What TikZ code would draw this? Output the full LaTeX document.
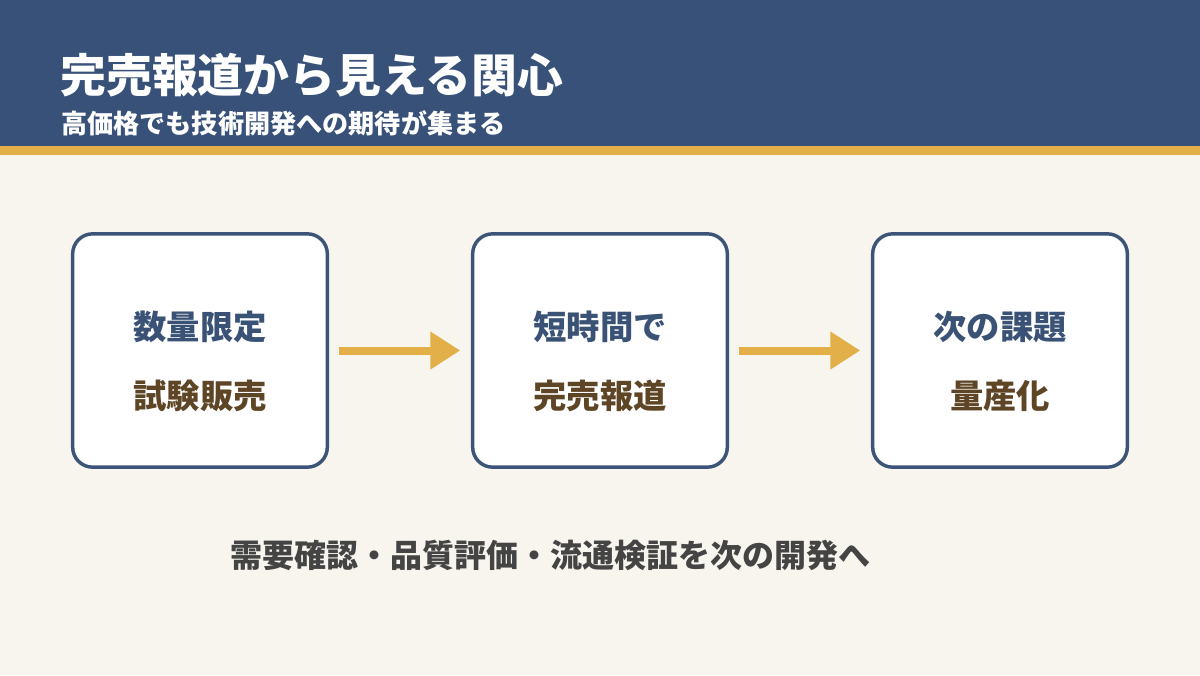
\documentclass[tikz,border=0pt]{standalone}
\usepackage{fontspec}
\newfontfamily\cjk{Noto Sans CJK JP}
\usetikzlibrary{arrows.meta,calc}
\definecolor{hdr}{HTML}{375178}
\definecolor{gold}{HTML}{E2AF48}
\definecolor{bg}{HTML}{F8F5EE}
\definecolor{bx}{HTML}{3B5478}
\definecolor{bluetxt}{HTML}{3A5275}
\definecolor{browntxt}{HTML}{5E4526}
\definecolor{graytxt}{HTML}{444444}
\tikzset{
  stagebox/.style={draw=bx, line width=2.6pt, fill=white, rounded corners=15pt,
    minimum width=191pt, minimum height=175pt, inner sep=0pt},
  topline/.style={font=\cjk\bfseries\fontsize{25}{25}\selectfont, text=bluetxt, inner sep=0pt, anchor=base},
  botline/.style={font=\cjk\bfseries\fontsize{25}{25}\selectfont, text=browntxt, inner sep=0pt, anchor=base},
  flow/.style={draw=gold, line width=6pt, -{Triangle[length=22.5pt,width=27pt]}, shorten <=7.5pt, shorten >=8pt},
}
\begin{document}
\begin{tikzpicture}[x=0.75pt,y=-0.75pt]
\useasboundingbox (0,0) rectangle (1200,675);
\fill[bg] (0,0) rectangle (1200,675);
\fill[hdr] (0,0) rectangle (1200,146);
\fill[gold] (0,146) rectangle (1200,155);
\node[anchor=base west, inner sep=0pt, text=white, font=\cjk\bfseries\fontsize{34.4}{34.4}\selectfont] (title) at (60,92) {完売報道から見える関心};
\node[anchor=base west, inner sep=0pt, text=white, font=\cjk\bfseries\fontsize{19.6}{19.6}\selectfont] (subtitle) at (61,133) {高価格でも技術開発への期待が集まる};

\node[stagebox] (b1) at (200,350.5) {};
\node[stagebox] (b2) at (600,350.5) {};
\node[stagebox] (b3) at (1000,350.5) {};

\node[topline] (t1) at ($(b1.center)+(0,-11)$) {数量限定};
\node[botline] (s1) at ($(b1.center)+(0,57.5)$) {試験販売};
\node[topline] (t2) at ($(b2.center)+(0,-11)$) {短時間で};
\node[botline] (s2) at ($(b2.center)+(0,57.5)$) {完売報道};
\node[topline] (t3) at ($(b3.center)+(0,-11)$) {次の課題};
\node[botline] (s3) at ($(b3.center)+(0,57.5)$) {量産化};

\draw[flow] (b1.east) -- (b2.west);
\draw[flow] (b2.east) -- (b3.west);

\node[anchor=base, inner sep=0pt, text=graytxt, font=\cjk\bfseries\fontsize{24}{24}\selectfont] (note) at (550,567) {需要確認・品質評価・流通検証を次の開発へ};
\end{tikzpicture}
\end{document}
